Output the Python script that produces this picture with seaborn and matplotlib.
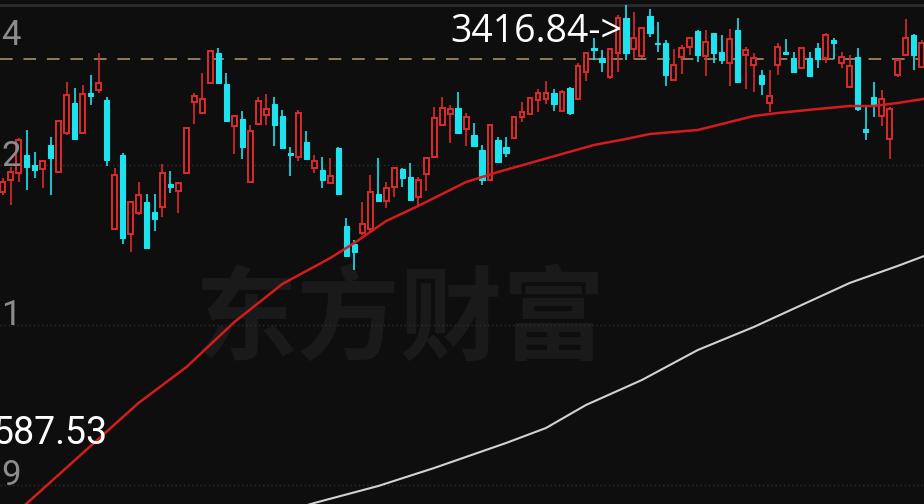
import numpy as np
import pandas as pd
import matplotlib.pyplot as plt
import seaborn as sns

# daily candles (index points)
opens = [3043, 3067, 3081, 3117, 3097, 3089, 3137, 3083, 3161, 3221,
         3161, 3241, 3247, 3227, 2969, 3117, 2959, 3001, 3023, 3003,
         3013, 3059, 3045, 3081, 3223, 3201, 3261, 3321, 3259, 3175,
         3189, 3063, 3179, 3197, 3219, 3195, 3121, 3113, 3143, 3091,
         3087, 3061, 3131, 2975, 2939, 2961, 2969, 3039, 3025, 3053,
         3089, 3073, 3033, 3079, 3113, 3177, 3199, 3211, 3169, 3157,
         3127, 3067, 3147, 3133, 3151, 3193, 3199, 3227, 3229, 3241,
         3205, 3251, 3229, 3283, 3331, 3311, 3273, 3321, 3391, 3329,
         3315, 3395, 3341, 3341, 3267, 3313, 3333, 3365, 3315, 3361,
         3323, 3301, 3367, 3317, 3297, 3277, 3221, 3297, 3323, 3311,
         3291, 3311, 3331, 3311, 3347, 3301, 3253, 3313, 3169, 3233,
         3195, 3149, 3277, 3317, 3357, 3293]
highs = [3071, 3093, 3151, 3167, 3123, 3107, 3153, 3187, 3263, 3251,
         3257, 3277, 3321, 3233, 3091, 3121, 3025, 3063, 3039, 3039,
         3099, 3085, 3061, 3171, 3241, 3281, 3327, 3331, 3281, 3197,
         3205, 3177, 3233, 3239, 3233, 3207, 3133, 3207, 3165, 3117,
         3113, 3111, 3133, 2991, 2947, 3023, 3077, 3111, 3063, 3093,
         3091, 3101, 3073, 3111, 3213, 3233, 3217, 3243, 3201, 3181,
         3137, 3179, 3153, 3153, 3195, 3223, 3233, 3249, 3265, 3249,
         3247, 3253, 3301, 3323, 3351, 3327, 3331, 3397, 3416.84, 3403,
         3373, 3409, 3383, 3347, 3329, 3337, 3353, 3367, 3367, 3361,
         3357, 3369, 3391, 3333, 3321, 3287, 3287, 3341, 3349, 3323,
         3333, 3323, 3341, 3361, 3351, 3323, 3317, 3331, 3213, 3263,
         3247, 3213, 3307, 3389, 3359, 3347]
lows = [3037, 3017, 3063, 3047, 3071, 3051, 3037, 3083, 3157, 3149,
        3161, 3217, 3241, 3095, 2969, 2939, 2923, 2997, 2929, 2965,
        2993, 3041, 3001, 3081, 3179, 3201, 3259, 3259, 3185, 3119,
        3109, 3063, 3177, 3177, 3135, 3129, 3075, 3105, 3109, 3081,
        3051, 3061, 3037, 2915, 2887, 2957, 2961, 3023, 3011, 3033,
        3053, 3025, 3013, 3045, 3113, 3177, 3141, 3161, 3135, 3133,
        3057, 3065, 3103, 3113, 3149, 3183, 3197, 3203, 3219, 3205,
        3205, 3197, 3227, 3265, 3307, 3283, 3269, 3283, 3307, 3309,
        3311, 3353, 3323, 3255, 3267, 3279, 3317, 3303, 3275, 3301,
        3299, 3255, 3261, 3249, 3243, 3237, 3203, 3277, 3319, 3283,
        3291, 3273, 3291, 3301, 3309, 3291, 3253, 3205, 3147, 3193,
        3175, 3109, 3273, 3317, 3287, 3293]
closes = [3063, 3083, 3147, 3093, 3087, 3105, 3111, 3185, 3237, 3149,
          3239, 3235, 3261, 3107, 3077, 2951, 3023, 3037, 2931, 2989,
          3081, 3053, 3061, 3171, 3235, 3229, 3325, 3261, 3185, 3195,
          3133, 3165, 3225, 3209, 3177, 3131, 3117, 3201, 3109, 3105,
          3067, 3075, 3039, 2915, 2923, 2979, 3043, 3025, 3051, 3091,
          3071, 3027, 3067, 3111, 3191, 3211, 3209, 3161, 3193, 3135,
          3067, 3177, 3103, 3121, 3193, 3203, 3231, 3241, 3241, 3219,
          3243, 3201, 3295, 3321, 3327, 3303, 3329, 3391, 3321, 3351,
          3371, 3361, 3339, 3277, 3297, 3331, 3351, 3317, 3343, 3321,
          3307, 3349, 3263, 3327, 3311, 3259, 3235, 3333, 3319, 3283,
          3331, 3275, 3309, 3357, 3341, 3313, 3295, 3209, 3163, 3219,
          3229, 3209, 3307, 3351, 3317, 3341]

# moving averages, sampled along the curves
ma_red_idx = [0, 3, 11, 17, 23, 29, 35, 41, 44, 48, 52, 58, 62, 66, 70, 74,
              78, 81, 84, 87, 91, 94, 97, 102, 106, 109, 112, 116]
ma_red = [2378, 2420, 2535, 2621, 2693, 2783, 2859, 2911, 2941, 2985, 3015,
          3063, 3083, 3101, 3119, 3137, 3149, 3159, 3163, 3167, 3183, 3195,
          3201, 3209, 3215, 3215, 3221, 3231]
ma_white_idx = [36, 39, 47, 54, 63, 68, 73, 80, 87, 94, 100, 106, 112, 116]
ma_white = [2407, 2421, 2455, 2491, 2541, 2571, 2617, 2667, 2727, 2773,
            2817, 2861, 2895, 2919]

grid_levels = [3097, 2777, 2457]
axis_labels = ["4", "2", "1", "9"]   # only the last digit is visible
last_price = 3309
max_label = "3416.84->"
min_label = "587.53"

bg = "#0e0e0e"
red = "#dc2a2a"
cyan = "#1ee3ef"

sns.set_theme(style="dark", rc={"axes.facecolor": bg, "figure.facecolor": bg})
plt.rcParams["font.family"] = ["Roboto", "Noto Sans CJK SC", "DejaVu Sans"]

df = pd.DataFrame({"open": opens, "high": highs, "low": lows, "close": closes})
df["idx"] = np.arange(len(df))
up = df["close"] >= df["open"]
df["bottom"] = df[["open", "close"]].min(axis=1)
df["height"] = (df["close"] - df["open"]).abs()

fig = plt.figure(figsize=(9.24, 5.04), dpi=100)
ax = fig.add_axes([0, 0, 1, 1])
ax.set_facecolor(bg)
ax.axis("off")
ax.set_xlim(-0.338, 115.31)
ax.set_ylim(2419, 3427)

# watermark
ax.text(400 / 924, 1 - 322 / 504, "东方财富", transform=ax.transAxes,
        fontsize=74, family=["Noto Sans CJK SC", "DejaVu Sans"], weight="bold",
        color="#1a1a1a", ha="center", va="center", zorder=0)

# grid
ax.axhline(3417, color="#2c2c2c", lw=2, zorder=1)
for lv in grid_levels:
    ax.axhline(lv, color="#2e2e2e", lw=1, ls=(0, (1, 2)), zorder=1)
ax.axhline(last_price, color="#9c8564", lw=1.3, ls=(0, (7, 6)), zorder=1)

# candles
colors = np.where(up, red, cyan)
ax.vlines(df["idx"], df["low"], df["high"], colors=colors, lw=1.2, zorder=2)
ax.bar(df.loc[up, "idx"], df.loc[up, "height"], bottom=df.loc[up, "bottom"],
       width=0.6, facecolor=bg, edgecolor=red, linewidth=1.4, zorder=3)
ax.bar(df.loc[~up, "idx"], df.loc[~up, "height"], bottom=df.loc[~up, "bottom"],
       width=0.66, color=cyan, edgecolor=cyan, linewidth=0.8, zorder=3)

# moving averages
sns.lineplot(x=ma_red_idx, y=ma_red, ax=ax, color="#d41c1c", lw=1.8, sort=False, zorder=4)
sns.lineplot(x=ma_white_idx, y=ma_white, ax=ax, color="#d2d2d2", lw=1.5, sort=False, zorder=4)

# axis labels (cut off at the left edge)
label_base = [45, 166, 325, 485]
for txt, yb in zip(axis_labels, label_base):
    ax.text(21 / 924, 1 - yb / 504, txt, transform=ax.transAxes, fontsize=25,
            color="#8c8c8c", ha="right", va="baseline", zorder=5)

ax.text(77.5, 3343, max_label, fontsize=27, family=["Open Sans", "DejaVu Sans"],
        color="white", ha="right", va="baseline", zorder=5)
ax.text(107 / 924, 1 - 444 / 504, min_label, transform=ax.transAxes,
        fontsize=27, color="white", ha="right", va="baseline", zorder=5)

fig.savefig("out.png", dpi=100, facecolor=bg)
